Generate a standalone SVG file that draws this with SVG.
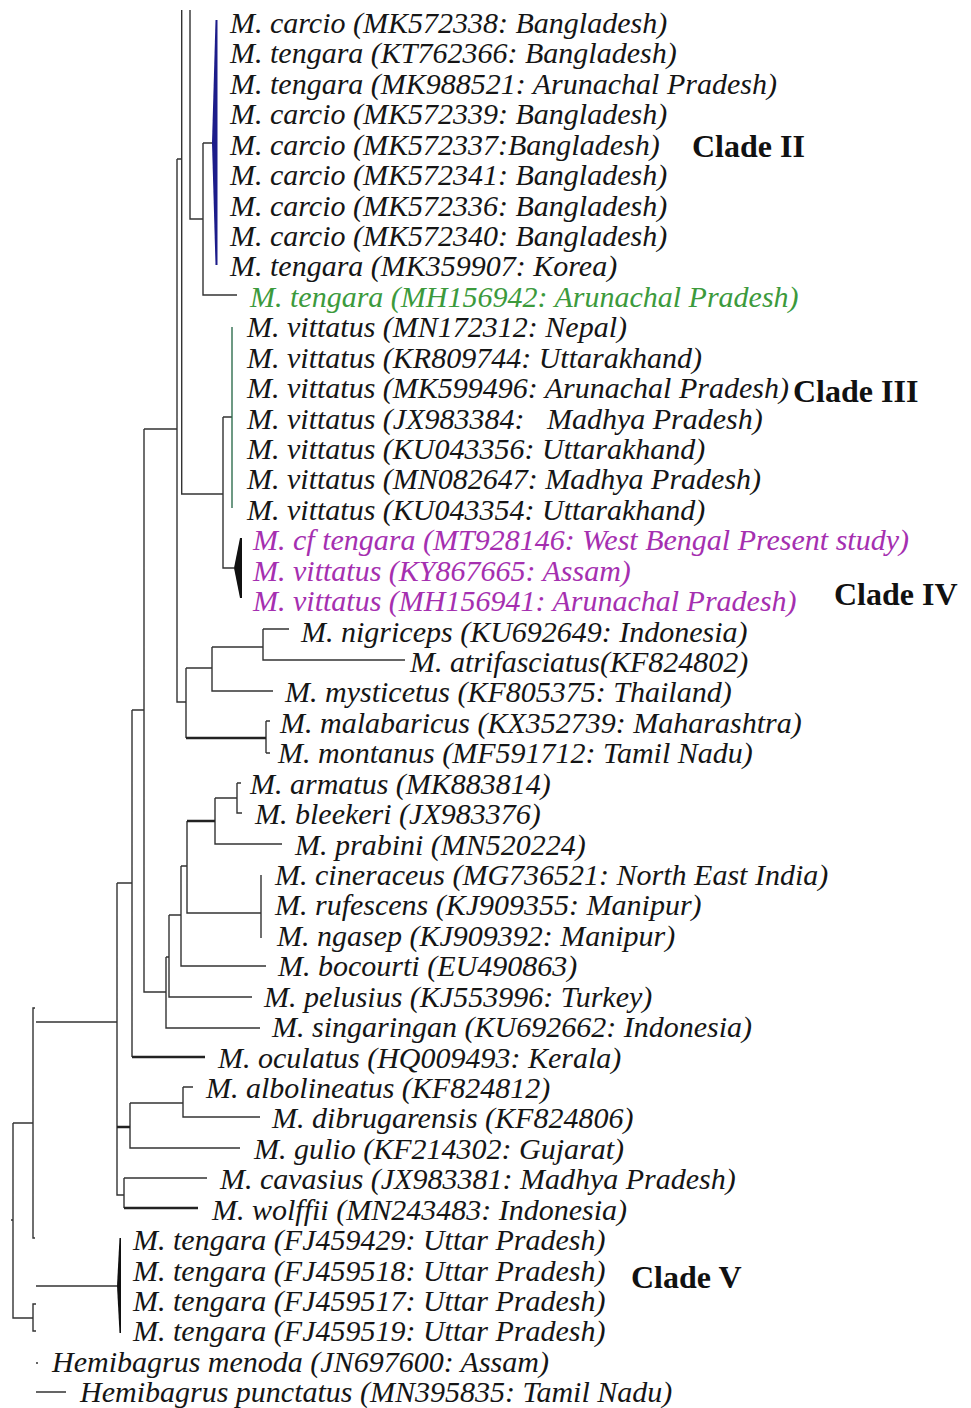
<svg xmlns="http://www.w3.org/2000/svg" width="971" height="1408" viewBox="0 0 971 1408">
<style>
.t{font-family:"Liberation Serif","Times New Roman",serif;font-style:italic;font-size:30px;fill:#151515}
.g{fill:#3c9a3c}
.p{fill:#a52fb0}
.c{font-family:"Liberation Serif","Times New Roman",serif;font-weight:bold;font-size:32px;fill:#111}
.ln{fill:none;stroke:#333;stroke-width:1.4}
.thk{fill:none;stroke:#222;stroke-width:2.6}
</style>
<rect width="971" height="1408" fill="#fff"/>
<g id="connectors">
<path class="ln" d="M181.7,10V494H223 M190,10V219H203 M203,143V295H237 M203,143H213 M223,417V568H234 M223,417H232 M177,159H181.7 M177,159V702H186 M144,429H177 M186,668V738 M186,668H212 M212,647V691H273 M212,647H263 M263,629V660H405 M263,629H289 M266,721V753 M266,721H270 M266,753H270 M144,429V992H166 M132,710H144 M166,957V1028H260 M166,957H169 M169,915V997H252 M169,915H181 M181,866V966H266 M181,866H187 M187,821V913H261 M215,798V844H282 M215,798H237 M237,783V813H242 M237,783H241 M261,875V938 M132,710V1057 M117,883H132 M117,883V1195H124 M130,1103V1148H240 M130,1103H183 M183,1087V1117H260 M183,1087H193 M124,1178V1208 M124,1178H207 M36,1022H117 M35,1008H33V1238H35 M13,1123H33 M13,1123V1318H33 M11,1220H13 M36,1304H33V1331H36 M36,1286H117 M36,1363H38 M36,1392H66"/>
<path class="thk" d="M186,738H266 M187,821H215 M132,1057H205 M117,1127H130 M124,1208H198"/>
<polygon points="212,143 215.5,20 217.5,20 217.5,265 215.5,265" fill="#1c1c8a"/>
<path d="M232,327V508" fill="none" stroke="#2f6e4f" stroke-width="1.4"/>
<polygon points="234,568 240,538 242,538 242,598 240,598" fill="#111"/>
<polygon points="117,1286 119.5,1238 121,1238 121,1333 119.5,1333" fill="#111"/>
</g>
<g id="leaf-0"><text class="t" x="230" y="33">M. carcio (MK572338: Bangladesh)</text></g>
<g id="leaf-1"><text class="t" x="230" y="63">M. tengara (KT762366: Bangladesh)</text></g>
<g id="leaf-2"><text class="t" x="230" y="94">M. tengara (MK988521: Arunachal Pradesh)</text></g>
<g id="leaf-3"><text class="t" x="230" y="124">M. carcio (MK572339: Bangladesh)</text></g>
<g id="leaf-4"><text class="t" x="230" y="155">M. carcio (MK572337:Bangladesh)</text></g>
<g id="leaf-5"><text class="t" x="230" y="185">M. carcio (MK572341: Bangladesh)</text></g>
<g id="leaf-6"><text class="t" x="230" y="216">M. carcio (MK572336: Bangladesh)</text></g>
<g id="leaf-7"><text class="t" x="230" y="246">M. carcio (MK572340: Bangladesh)</text></g>
<g id="leaf-8"><text class="t" x="230" y="276">M. tengara (MK359907: Korea)</text></g>
<g id="leaf-9"><text class="t g" x="250" y="307">M. tengara (MH156942: Arunachal Pradesh)</text></g>
<g id="leaf-10"><text class="t" x="247" y="337">M. vittatus (MN172312: Nepal)</text></g>
<g id="leaf-11"><text class="t" x="247" y="368">M. vittatus (KR809744: Uttarakhand)</text></g>
<g id="leaf-12"><text class="t" x="247" y="398">M. vittatus (MK599496: Arunachal Pradesh)</text></g>
<g id="leaf-13"><text class="t" x="247" y="429" xml:space="preserve">M. vittatus (JX983384:   Madhya Pradesh)</text></g>
<g id="leaf-14"><text class="t" x="247" y="459">M. vittatus (KU043356: Uttarakhand)</text></g>
<g id="leaf-15"><text class="t" x="247" y="489">M. vittatus (MN082647: Madhya Pradesh)</text></g>
<g id="leaf-16"><text class="t" x="247" y="520">M. vittatus (KU043354: Uttarakhand)</text></g>
<g id="leaf-17"><text class="t p" x="253" y="550">M. cf tengara (MT928146: West Bengal Present study)</text></g>
<g id="leaf-18"><text class="t p" x="253" y="581">M. vittatus (KY867665: Assam)</text></g>
<g id="leaf-19"><text class="t p" x="253" y="611">M. vittatus (MH156941: Arunachal Pradesh)</text></g>
<g id="leaf-20"><text class="t" x="301" y="642">M. nigriceps (KU692649: Indonesia)</text></g>
<g id="leaf-21"><text class="t" x="410" y="672">M. atrifasciatus(KF824802)</text></g>
<g id="leaf-22"><text class="t" x="285" y="702">M. mysticetus (KF805375: Thailand)</text></g>
<g id="leaf-23"><text class="t" x="280" y="733">M. malabaricus (KX352739: Maharashtra)</text></g>
<g id="leaf-24"><text class="t" x="278" y="763">M. montanus (MF591712: Tamil Nadu)</text></g>
<g id="leaf-25"><text class="t" x="250" y="794">M. armatus (MK883814)</text></g>
<g id="leaf-26"><text class="t" x="255" y="824">M. bleekeri (JX983376)</text></g>
<g id="leaf-27"><text class="t" x="295" y="855">M. prabini (MN520224)</text></g>
<g id="leaf-28"><text class="t" x="275" y="885">M. cineraceus (MG736521: North East India)</text></g>
<g id="leaf-29"><text class="t" x="275" y="915">M. rufescens (KJ909355: Manipur)</text></g>
<g id="leaf-30"><text class="t" x="277" y="946">M. ngasep (KJ909392: Manipur)</text></g>
<g id="leaf-31"><text class="t" x="278" y="976">M. bocourti (EU490863)</text></g>
<g id="leaf-32"><text class="t" x="264" y="1007">M. pelusius (KJ553996: Turkey)</text></g>
<g id="leaf-33"><text class="t" x="272" y="1037">M. singaringan (KU692662: Indonesia)</text></g>
<g id="leaf-34"><text class="t" x="218" y="1068">M. oculatus (HQ009493: Kerala)</text></g>
<g id="leaf-35"><text class="t" x="206" y="1098">M. albolineatus (KF824812)</text></g>
<g id="leaf-36"><text class="t" x="272" y="1128">M. dibrugarensis (KF824806)</text></g>
<g id="leaf-37"><text class="t" x="254" y="1159">M. gulio (KF214302: Gujarat)</text></g>
<g id="leaf-38"><text class="t" x="220" y="1189">M. cavasius (JX983381: Madhya Pradesh)</text></g>
<g id="leaf-39"><text class="t" x="212" y="1220">M. wolffii (MN243483: Indonesia)</text></g>
<g id="leaf-40"><text class="t" x="133" y="1250">M. tengara (FJ459429: Uttar Pradesh)</text></g>
<g id="leaf-41"><text class="t" x="133" y="1281">M. tengara (FJ459518: Uttar Pradesh)</text></g>
<g id="leaf-42"><text class="t" x="133" y="1311">M. tengara (FJ459517: Uttar Pradesh)</text></g>
<g id="leaf-43"><text class="t" x="133" y="1341">M. tengara (FJ459519: Uttar Pradesh)</text></g>
<g id="leaf-44"><text class="t" x="52" y="1372">Hemibagrus menoda (JN697600: Assam)</text></g>
<g id="leaf-45"><text class="t" x="80" y="1402">Hemibagrus punctatus (MN395835: Tamil Nadu)</text></g>
<g id="clade-labels">
<text class="c" x="692" y="157">Clade II</text>
<text class="c" x="793" y="402">Clade III</text>
<text class="c" x="834" y="605">Clade IV</text>
<text class="c" x="631" y="1288">Clade V</text>
</g>
</svg>
